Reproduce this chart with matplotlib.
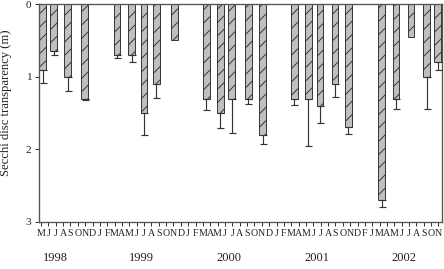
import matplotlib
matplotlib.use('Agg')
import matplotlib.pyplot as plt
import numpy as np

plt.rcParams['font.family'] = ['Liberation Serif', 'DejaVu Serif']
plt.rcParams['hatch.linewidth'] = 0.6

# ---- data ----
# month index: 0 = May 1998 ... 54 = Nov 2002 (bars placed at sampling dates)
sample_pos = [0.24, 1.74, 3.63, 5.94, 10.33, 12.32, 13.99, 15.67, 18.11,
              22.45, 24.35, 25.91, 28.19, 30.12, 34.42, 36.32, 37.91, 39.95,
              41.75, 46.29, 48.23, 50.27, 52.40, 53.90]
secchi = [0.90, 0.65, 1.00, 1.31, 0.70, 0.70, 1.50, 1.10, 0.49,
          1.30, 1.50, 1.30, 1.30, 1.80, 1.30, 1.30, 1.40, 1.10,
          1.70, 2.70, 1.30, 0.45, 1.00, 0.79]
secchi_sd = [0.18, 0.045, 0.19, 0.01, 0.04, 0.09, 0.31, 0.195, 0.0,
             0.16, 0.21, 0.48, 0.08, 0.125, 0.09, 0.65, 0.235, 0.175,
             0.09, 0.10, 0.15, 0.0, 0.45, 0.11]
month_labels = (list("MJJASOND") + list("JFMAMJJASOND") + list("JFMAMJJASOND")
                + list("JFMAMJJASOND") + list("FJMAMJJASON"))
years = ['1998', '1999', '2000', '2001', '2002']
year_pos = [2.0, 13.6, 25.5, 37.5, 49.3]
ytick_vals = [0, 1, 2, 3]

W, H, DPI = 444, 269, 120
fig = plt.figure(figsize=(W / DPI, H / DPI), dpi=DPI)
ax_l, ax_r, ax_t, ax_b = 39, 442, 4.3, 221.7
ax = fig.add_axes([ax_l / W, 1 - ax_b / H, (ax_r - ax_l) / W, (ax_b - ax_t) / H])

pos = np.array(sample_pos)
val = np.array(secchi)
sd = np.array(secchi_sd)

ax.bar(pos, val, width=0.9, color='#bfbfbf', edgecolor='#3a3a3a',
       linewidth=0.6, hatch='///', zorder=2)
m = sd > 0
ax.errorbar(pos[m], val[m], yerr=[np.zeros(m.sum()), sd[m]], fmt='none',
            ecolor='#333333', elinewidth=0.7, capsize=2.1, capthick=0.7, zorder=3)

ax.set_ylim(3, 0)
ax.set_xlim(-0.272, 54.48)
ax.set_yticks(ytick_vals)
ax.set_yticklabels([str(v) for v in ytick_vals], fontsize=6.8, color='#222222')
ax.set_xticks(range(len(month_labels)))
ax.set_xticklabels(month_labels, fontsize=6.0, color='#222222')
ax.tick_params(axis='x', length=2.5, width=0.6, pad=2, colors='#333333', labelcolor='#222222')
ax.tick_params(axis='y', length=2.5, width=0.6, pad=2, colors='#333333', labelcolor='#222222')
for s in ax.spines.values():
    s.set_color('#555555')
    s.set_linewidth(0.8)

axh = ax_b - ax_t
for yl, yp in zip(years, year_pos):
    ax.text(yp, -(258 - ax_b) / axh, yl, transform=ax.get_xaxis_transform(),
            ha='center', va='center', fontsize=7.5, color='#222222')

fig.text(6 / W, 1 - 103 / H, 'Secchi disc transparency (m)', rotation=90,
         ha='center', va='center', fontsize=7.6, color='#222222')

fig.savefig('out.png', dpi=DPI)
